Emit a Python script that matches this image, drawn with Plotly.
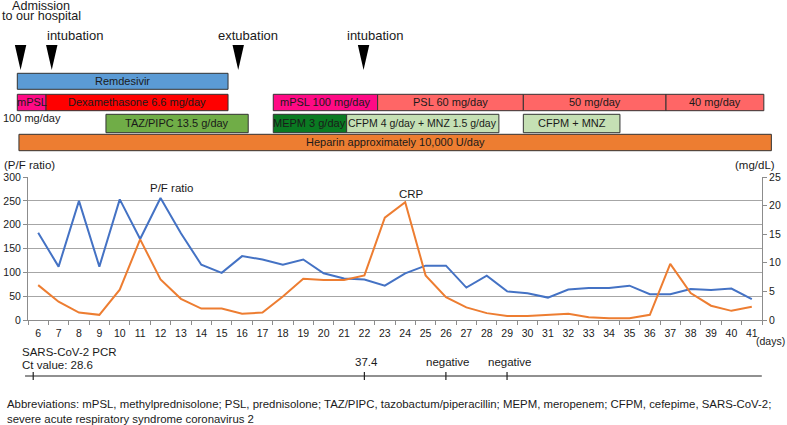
import plotly.graph_objects as go

W, H = 787, 425
FONT = "Liberation Sans, Arial, sans-serif"
TXT = "#1a1a1a"

# ---------------- data ----------------
days = list(range(6, 42))
pf_ratio = [183, 112, 250, 112, 253, 170, 256, 182, 116, 99,
            134, 127, 116, 127, 98, 87, 85, 72, 98, 114,
            114, 68, 93, 60, 56, 47, 64, 67, 67, 72,
            54, 54, 65, 63, 66, 44]
crp = [6.1, 3.2, 1.3, 0.9, 5.3, 14.1, 7.1, 3.7, 2.0, 2.0,
       1.1, 1.3, 4.1, 7.2, 7.0, 7.0, 7.8, 17.9, 20.6, 7.8,
       4.0, 2.2, 1.2, 0.7, 0.7, 0.9, 1.1, 0.5, 0.3, 0.3,
       0.9, 9.8, 4.7, 2.5, 1.6, 2.3]

treat_names = ["Remdesivir", "mPSL", "Dexamethasone 6.6 mg/day", "mPSL 100 mg/day",
               "PSL 60 mg/day", "50 mg/day", "40 mg/day", "TAZ/PIPC 13.5 g/day",
               "MEPM 3 g/day", "CFPM 4 g/day + MNZ 1.5 g/day", "CFPM + MNZ",
               "Heparin approximately 10,000 U/day"]
treat_start = [4.97, 4.97, 6.38, 17.53, 22.65, 29.8, 36.8, 9.32, 17.53, 21.13, 29.8, 5.05]
treat_end = [15.31, 6.38, 15.31, 22.65, 29.8, 36.8, 41.6, 16.3, 21.13, 28.6, 34.54, 41.97]
treat_row = [0, 1, 1, 1, 1, 1, 1, 2, 2, 2, 2, 3]

event_labels = ["Admission<br>to our hospital", "intubation", "extubation", "intubation"]
event_days = [5.13, 6.66, 15.81, 21.96]

pcr_title = "SARS-CoV-2 PCR"
pcr_days = [5.75, 22, 26, 29]
pcr_results = ["Ct value: 28.6", "37.4", "negative", "negative"]

abbrev = ("Abbreviations: mPSL, methylprednisolone; PSL, prednisolone; TAZ/PIPC, "
          "tazobactum/piperacillin; MEPM, meropenem; CFPM, cefepime, SARS-CoV-2;<br>"
          "severe acute respiratory syndrome coronavirus 2")

# ---------------- styles ----------------
treat_colors = ["#5B9BD5", "#FF0A85", "#FF0000", "#FF0A85", "#FF6666", "#FF6666", "#FF6666",
                "#70AD47", "#0A7A22", "#C5E0B4", "#C5E0B4", "#ED7D31"]
treat_fsize = [11, 11, 11, 11, 11, 11, 11, 11, 11, 10.5, 11, 11]
row_center_px = [81.3, 102.5, 123.5, 142.5]
row_height_px = [16, 16.4, 18.4, 16.4]
event_label_shift = [20.5, 23.3, 10.0, 11.0]

def py(px):
    return 1 - px / H

def ann(**kw):
    base = dict(showarrow=False, xanchor="center", yanchor="middle")
    base.update(kw)
    return base

# top timeline x-axis in day units covering the full width
x2_range = [6 - 38.3 / 20.38, 6 + (W - 38.3) / 20.38]

fig = go.Figure()

# line traces
fig.add_trace(go.Scatter(x=days, y=pf_ratio, mode="lines", name="P/F ratio",
                         line=dict(color="#4472C4", width=2), xaxis="x", yaxis="y",
                         showlegend=False))
fig.add_trace(go.Scatter(x=days, y=crp, mode="lines", name="CRP",
                         line=dict(color="#ED7D31", width=2), xaxis="x", yaxis="y3",
                         showlegend=False))

# treatment bars
fig.add_trace(go.Bar(
    orientation="h",
    base=treat_start,
    x=[e - s for s, e in zip(treat_start, treat_end)],
    y=[row_center_px[r] for r in treat_row],
    width=[row_height_px[r] for r in treat_row],
    marker=dict(color=treat_colors, line=dict(color="#333333", width=1)),
    xaxis="x2", yaxis="y2", showlegend=False, hoverinfo="skip"))

annotations = []
for name, s, e, r, fs in zip(treat_names, treat_start, treat_end, treat_row, treat_fsize):
    annotations.append(ann(x=(s + e) / 2, y=row_center_px[r], xref="x2", yref="y2",
                           text=name, font=dict(size=fs, color=TXT)))
# continuation of first mPSL label
annotations.append(ann(x=(treat_start[1] + treat_end[1]) / 2, y=118, xref="x2", yref="y2",
                       text="100 mg/day", font=dict(size=11, color=TXT)))

shapes = []
# event arrows
for lab, d, dx in zip(event_labels, event_days, event_label_shift):
    hw = 0.28
    shapes.append(dict(type="path", xref="x2", yref="paper",
                       path=f"M {d - hw},{py(45)} L {d + hw},{py(45)} L {d},{py(70)} Z",
                       fillcolor="black", line=dict(width=0)))
    lines = lab.split("<br>")
    if len(lines) == 1:
        annotations.append(ann(x=d, y=py(35), xref="x2", yref="paper", text=lab,
                               xshift=dx, font=dict(size=13, color=TXT)))
    else:
        for k, ln in enumerate(lines):
            annotations.append(ann(x=d, y=py(6.5 + 10 * k), xref="x2", yref="paper", text=ln,
                                   xshift=dx, font=dict(size=12.6, color=TXT)))

# chart labels
annotations += [
    ann(x=12.54, y=277, xref="x", yref="y", text="P/F ratio", font=dict(size=11.5, color=TXT)),
    ann(x=24.33, y=22, xref="x", yref="y3", text="CRP", font=dict(size=11.5, color=TXT)),
    ann(x=2 / W, y=py(165), xref="paper", yref="paper", xanchor="left", text="(P/F ratio)",
        font=dict(size=11.5, color=TXT)),
    ann(x=777 / W, y=py(165), xref="paper", yref="paper", xanchor="right", text="(mg/dL)",
        font=dict(size=11.5, color=TXT)),
    ann(x=770 / W, y=py(341), xref="paper", yref="paper", text="(days)",
        font=dict(size=10.5, color=TXT)),
]

# PCR timeline
shapes.append(dict(type="line", xref="x2", yref="paper", x0=5.35, x1=41.5,
                   y0=py(376), y1=py(376), line=dict(color="#222222", width=1.2)))
for i, (d, res) in enumerate(zip(pcr_days, pcr_results)):
    shapes.append(dict(type="line", xref="x2", yref="paper", x0=d, x1=d,
                       y0=py(372), y1=py(380), line=dict(color="#222222", width=1.2)))
    if i == 0:
        annotations.append(ann(x=20 / W, y=py(352), xref="paper", yref="paper", xanchor="left",
                               text=pcr_title, font=dict(size=11.5, color=TXT)))
        annotations.append(ann(x=20 / W, y=py(365), xref="paper", yref="paper", xanchor="left",
                               text=res, font=dict(size=11.5, color=TXT)))
    else:
        annotations.append(ann(x=d, y=py(362), xref="x2", yref="paper", text=res,
                               xshift=2, font=dict(size=11.5, color=TXT)))

annotations.append(ann(x=5 / W, y=py(411), xref="paper", yref="paper", xanchor="left",
                       align="left", text=abbrev, font=dict(size=11.4, color=TXT)))

fig.update_layout(
    width=W, height=H, autosize=False,
    margin=dict(l=0, r=0, t=0, b=0, pad=0, autoexpand=False),
    paper_bgcolor="white", plot_bgcolor="white",
    font=dict(family=FONT, color=TXT),
    xaxis=dict(domain=[28 / W, 762 / W], range=[5.5, 41.5], tickmode="array",
               tickvals=days, ticktext=[str(d) for d in days], ticks="",
               showgrid=False, zeroline=False, showline=True, linecolor="#8c8c8c",
               tickfont=dict(size=10.5, color=TXT), ticklabelstandoff=3, automargin=False,
               minor=dict(tickmode="array", tickvals=[d - 0.5 for d in days] + [41.5],
                          ticks="outside", ticklen=4, tickcolor="#8c8c8c", showgrid=False),
               anchor="y"),
    yaxis=dict(domain=[py(320), py(177)], range=[0, 300], dtick=50, showgrid=True,
               gridcolor="#a6a6a6", gridwidth=1, zeroline=False, showline=True,
               linecolor="#8c8c8c", ticks="outside", ticklen=4, tickcolor="#8c8c8c",
               tickfont=dict(size=10.5, color=TXT), anchor="x", automargin=False),
    yaxis3=dict(domain=[py(320), py(177)], range=[0, 25], dtick=5, overlaying="y",
                side="right", showgrid=False, zeroline=False, showline=True,
                linecolor="#8c8c8c", ticks="outside", ticklen=4, tickcolor="#8c8c8c",
                tickfont=dict(size=10.5, color=TXT), anchor="x", automargin=False),
    xaxis2=dict(domain=[0, 1], range=x2_range, visible=False, anchor="y2", automargin=False),
    yaxis2=dict(domain=[py(160), py(60)], range=[160, 60], visible=False, anchor="x2",
                automargin=False),
    annotations=annotations,
    shapes=shapes,
)

fig.write_html("out.html", config={"displayModeBar": False},
               post_script="document.body.style.margin='0';")
